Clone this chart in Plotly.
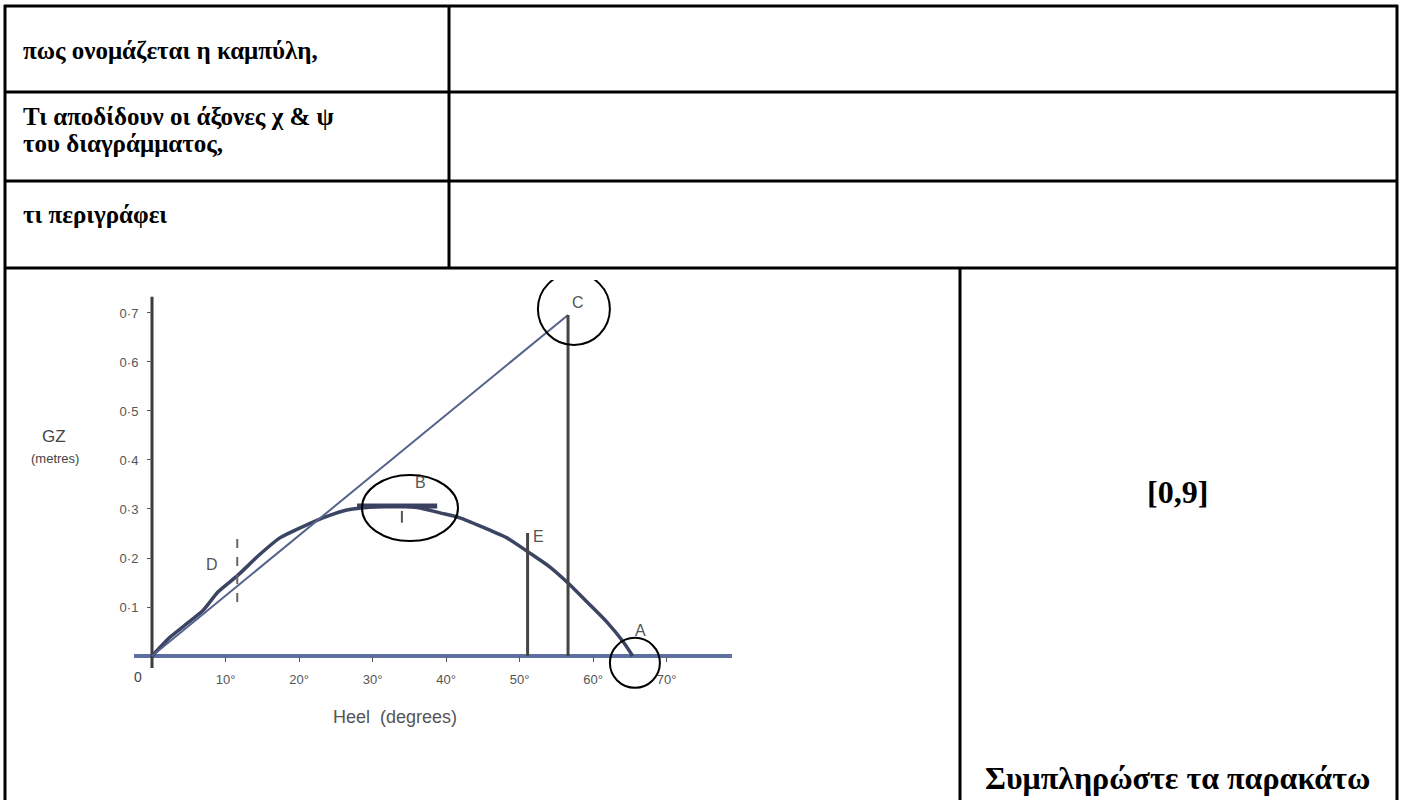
import plotly.graph_objects as go

# ---------------- data ----------------
heel_deg = [0, 2.5, 5, 7, 9, 11.7, 14.5, 17.4, 21.1, 23.8, 26.5, 30, 34, 36.5,
            39.2, 41.9, 45, 48.3, 51.2, 54.1, 56.6, 59.2, 61.9, 64.1, 65.4]
gz_m = [0, 0.039, 0.069, 0.094, 0.131, 0.165, 0.205, 0.241, 0.268, 0.285, 0.298,
        0.304, 0.306, 0.302, 0.292, 0.282, 0.263, 0.241, 0.212, 0.182, 0.149,
        0.110, 0.069, 0.029, 0]

tangent_deg = [0, 56.6]
tangent_gz = [0, 0.696]

vline_c_deg = [56.6, 56.6]
vline_c_gz = [0, 0.696]
vline_e_deg = [51.1, 51.1]
vline_e_gz = [0, 0.251]

plateau_deg = [27.9, 38.8]
plateau_gz = [0.306, 0.306]
plateau_tick_deg = [34, 34]
plateau_tick_gz = [0.272, 0.296]

d_mark_deg = [11.6, 11.6]
d_mark_gz = [0.11, 0.25]

x_axis_deg = [-2.45, 78.9]
x_axis_gz = [0, 0]
y_axis_deg = [0, 0]
y_axis_gz = [-0.0245, 0.733]

x_tick_vals = [10, 20, 30, 40, 50, 60, 70]
x_tick_text = ["10°", "20°", "30°", "40°", "50°", "60°", "70°"]
y_tick_vals = [0.1, 0.2, 0.3, 0.4, 0.5, 0.6, 0.7]
y_tick_text = ["0·1", "0·2", "0·3", "0·4", "0·5", "0·6", "0·7"]

point_names = ["C", "B", "D", "E", "A"]
point_deg = [57.9, 36.5, 8.2, 52.6, 66.4]
point_gz = [0.722, 0.355, 0.186, 0.243, 0.053]

circle_deg = [57.4, 35.1, 65.7]
circle_gz = [0.708, 0.302, -0.014]
circle_rx = [36, 48, 25]
circle_ry = [36, 33, 25]

row_lines = ["πως ονομάζεται η καμπύλη,",
             "Τι αποδίδουν οι άξονες χ &amp; ψ",
             "του διαγράμματος,",
             "τι περιγράφει"]
side_text = ["[0,9]", "Συμπληρώστε τα παρακάτω"]

# ---------------- figure ----------------
W, H = 1401, 800
dom_x_px = (100, 760)
dom_y_px = (280, 720)
x_range = [-7.075, 82.72]
y_range = [-0.1306, 0.7673]


def px_x(p):
    return p / W


def px_y(p):
    return 1 - p / H


xdom = [px_x(dom_x_px[0]), px_x(dom_x_px[1])]
ydom = [px_y(dom_y_px[1]), px_y(dom_y_px[0])]
xpos = xdom[0] + (0 - x_range[0]) / (x_range[1] - x_range[0]) * (xdom[1] - xdom[0])
ypos = ydom[0] + (0 - y_range[0]) / (y_range[1] - y_range[0]) * (ydom[1] - ydom[0])

fig = go.Figure()

line_col = "#3b4462"
fig.add_trace(go.Scatter(x=x_axis_deg, y=x_axis_gz, mode="lines",
                         line=dict(color="#5d6f9e", width=4), hoverinfo="skip"))
fig.add_trace(go.Scatter(x=y_axis_deg, y=y_axis_gz, mode="lines",
                         line=dict(color="#3c3c3c", width=3), hoverinfo="skip"))
fig.add_trace(go.Scatter(x=heel_deg, y=gz_m, mode="lines",
                         line=dict(color=line_col, width=3.5, shape="spline", smoothing=0.6)))
fig.add_trace(go.Scatter(x=tangent_deg, y=tangent_gz, mode="lines",
                         line=dict(color="#55638c", width=2)))
fig.add_trace(go.Scatter(x=vline_c_deg, y=vline_c_gz, mode="lines",
                         line=dict(color="#454545", width=3)))
fig.add_trace(go.Scatter(x=vline_e_deg, y=vline_e_gz, mode="lines",
                         line=dict(color="#454545", width=3)))
fig.add_trace(go.Scatter(x=plateau_deg, y=plateau_gz, mode="lines",
                         line=dict(color="#3a4060", width=5)))
fig.add_trace(go.Scatter(x=plateau_tick_deg, y=plateau_tick_gz, mode="lines",
                         line=dict(color="#555", width=2)))
fig.add_trace(go.Scatter(x=d_mark_deg, y=d_mark_gz, mode="lines",
                         line=dict(color="#666", width=2, dash="dash")))

sans = "Liberation Sans"
for n, xd, yd in zip(point_names, point_deg, point_gz):
    fig.add_annotation(x=xd, y=yd, xref="x", yref="y", text=n, showarrow=False,
                       xanchor="center", yanchor="middle",
                       font=dict(family=sans, size=16, color="#555"))
fig.add_annotation(x=0, y=0, xref="x", yref="y", text="0", showarrow=False,
                   xanchor="center", yanchor="middle", xshift=-14, yshift=-21,
                   font=dict(family=sans, size=14, color="#444"))

shapes = []
for xd, yd, rx, ry in zip(circle_deg, circle_gz, circle_rx, circle_ry):
    shapes.append(dict(type="circle", xref="x", yref="y", xsizemode="pixel",
                       ysizemode="pixel", xanchor=xd, yanchor=yd,
                       x0=-rx, x1=rx, y0=-ry, y1=ry,
                       line=dict(color="black", width=2)))

# table lines
tbl = dict(color="black", width=3)
table_rows_px = [6, 92, 181, 268]
for r in table_rows_px:
    shapes.append(dict(type="line", xref="paper", yref="paper",
                       x0=px_x(4), x1=px_x(1398), y0=px_y(r), y1=px_y(r), line=tbl))
shapes.append(dict(type="line", xref="paper", yref="paper", x0=px_x(5), x1=px_x(5),
                   y0=px_y(5), y1=px_y(800), line=tbl))
shapes.append(dict(type="line", xref="paper", yref="paper", x0=px_x(1397), x1=px_x(1397),
                   y0=px_y(5), y1=px_y(800), line=tbl))
shapes.append(dict(type="line", xref="paper", yref="paper", x0=px_x(449), x1=px_x(449),
                   y0=px_y(6), y1=px_y(268), line=tbl))
shapes.append(dict(type="line", xref="paper", yref="paper", x0=px_x(960), x1=px_x(960),
                   y0=px_y(268), y1=px_y(800), line=tbl))

serif = dict(family="Liberation Serif", size=25, color="black")
row_y_px = [51, 116, 144, 214]
for t, ry in zip(row_lines, row_y_px):
    fig.add_annotation(x=px_x(21), y=px_y(ry), xref="paper", yref="paper", text="<b>" + t + "</b>",
                       showarrow=False, xanchor="left", yanchor="middle", align="left", font=serif)
serif_big = dict(family="Liberation Serif", size=32, color="black")
fig.add_annotation(x=px_x(1177), y=px_y(492), xref="paper", yref="paper",
                   text="<b>" + side_text[0] + "</b>", showarrow=False,
                   xanchor="center", yanchor="middle", font=serif_big)
fig.add_annotation(x=px_x(1177), y=px_y(778), xref="paper", yref="paper",
                   text="<b>" + side_text[1] + "</b>", showarrow=False,
                   xanchor="center", yanchor="middle", font=serif_big)

fig.add_annotation(x=px_x(54), y=px_y(436), xref="paper", yref="paper",
                   text="GZ", showarrow=False, xanchor="center", yanchor="middle",
                   font=dict(family=sans, size=17, color="#444"))
fig.add_annotation(x=px_x(55), y=px_y(458), xref="paper", yref="paper",
                   text="(metres)", showarrow=False, xanchor="center", yanchor="middle",
                   font=dict(family=sans, size=13, color="#444"))
fig.add_annotation(x=px_x(395), y=px_y(717), xref="paper", yref="paper",
                   text="Heel  (degrees)", showarrow=False, xanchor="center", yanchor="middle",
                   font=dict(family=sans, size=18, color="#555"))

fig.update_layout(
    width=W, height=H, margin=dict(l=0, r=0, t=0, b=0, pad=0),
    paper_bgcolor="white", plot_bgcolor="white", showlegend=False,
    shapes=shapes,
    xaxis=dict(domain=xdom, range=x_range, anchor="free", position=ypos,
               showgrid=False, zeroline=False, showline=False,
               tickmode="array", tickvals=x_tick_vals, ticktext=x_tick_text,
               ticks="outside", ticklen=5, tickcolor="#555", tickwidth=1,
               ticklabelstandoff=6,
               tickfont=dict(family=sans, size=13, color="#555")),
    yaxis=dict(domain=ydom, range=y_range, anchor="free", position=xpos,
               showgrid=False, zeroline=False, showline=False,
               tickmode="array", tickvals=y_tick_vals, ticktext=y_tick_text,
               ticks="outside", ticklen=5, tickcolor="#555", tickwidth=1,
               ticklabelstandoff=6,
               tickfont=dict(family=sans, size=13, color="#555")),
)

fig.write_html(
    "out.html",
    config={"displayModeBar": False},
    post_script="document.body.style.margin='0';document.documentElement.style.overflow='hidden';document.body.style.overflow='hidden';",
)
